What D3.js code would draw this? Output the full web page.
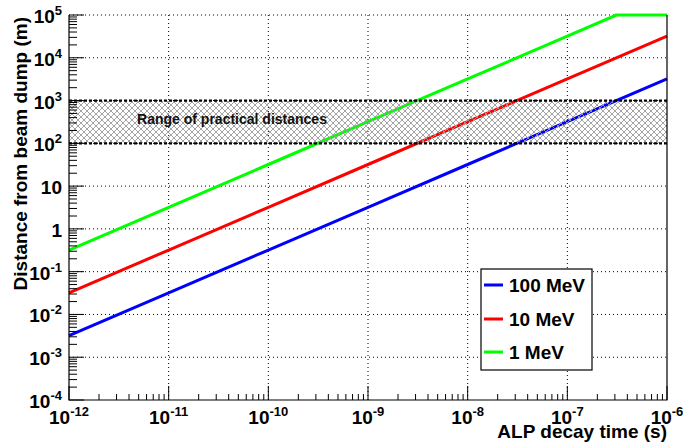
<!DOCTYPE html>
<html>
<head>
<meta charset="utf-8">
<script src="https://cdn.jsdelivr.net/npm/d3@7"></script>
<style>
html,body{margin:0;padding:0;background:#fff;}
svg{display:block;font-family:"Liberation Sans",Arial,Helvetica,sans-serif;font-weight:bold;}
</style>
</head>
<body>
<svg id="c" width="683" height="442"></svg>
<script>
// ---- data ----
const seriesNames = ["100 MeV", "10 MeV", "1 MeV"];
const seriesColors = ["#0000ff", "#ff0000", "#00ff00"];
const times100MeV = [1e-12, 1e-11, 1e-10, 1e-9, 1e-8, 1e-7, 1e-6];
const dist100MeV  = [0.0032, 0.032, 0.32, 3.2, 32, 320, 3200];
const times10MeV  = [1e-12, 1e-11, 1e-10, 1e-9, 1e-8, 1e-7, 1e-6];
const dist10MeV   = [0.032, 0.32, 3.2, 32, 320, 3200, 32000];
const times1MeV   = [1e-12, 1e-11, 1e-10, 1e-9, 1e-8, 1e-7, 3.1e-7, 1e-6];
const dist1MeV    = [0.32, 3.2, 32, 320, 3200, 32000, 100000, 100000];
const xTickExps = [-12, -11, -10, -9, -8, -7, -6];
const yTickLabels = [
  {v:1e-4, b:"10", e:"-4"}, {v:1e-3, b:"10", e:"-3"}, {v:1e-2, b:"10", e:"-2"},
  {v:1e-1, b:"10", e:"-1"}, {v:1, b:"1", e:""}, {v:10, b:"10", e:""},
  {v:1e2, b:"10", e:"2"}, {v:1e3, b:"10", e:"3"}, {v:1e4, b:"10", e:"4"}, {v:1e5, b:"10", e:"5"}
];
const bandRange = [100, 1000];
const bandLabel = "Range of practical distances";
const xTitle = "ALP decay time (s)";
const yTitle = "Distance from beam dump (m)";

// ---- layout ----
const L = 69, R = 667, T = 15, B = 400;
const svg = d3.select("#c");
const x = d3.scaleLog().domain([1e-12, 1e-6]).range([L, R]);
const y = d3.scaleLog().domain([1e-4, 1e5]).range([B, T]);

// hatch pattern
const defs = svg.append("defs");
const pat = defs.append("pattern").attr("id","hatch").attr("patternUnits","userSpaceOnUse")
  .attr("width",6).attr("height",6);
pat.append("path").attr("d","M0,0 L6,6 M6,0 L0,6 M-1,5 L1,7 M5,-1 L7,1 M-1,1 L1,-1 M5,7 L7,5")
  .attr("stroke","#9a9a9a").attr("stroke-width",0.9).attr("fill","none");

// grid
const gx = xTickExps.slice(1, -1).map(e => Math.pow(10, e));
svg.append("g").selectAll("line").data(gx).join("line")
  .attr("x1", d => x(d)).attr("x2", d => x(d)).attr("y1", T).attr("y2", B)
  .attr("stroke","#000").attr("stroke-width",1).attr("stroke-dasharray","1,3");
const gy = yTickLabels.slice(1).map(d => d.v);
svg.append("g").selectAll("line").data(gy).join("line")
  .attr("x1", L).attr("x2", R).attr("y1", d => y(d)).attr("y2", d => y(d))
  .attr("stroke","#000").attr("stroke-width",1).attr("stroke-dasharray","1,3");

// series lines
const seriesData = [
  d3.zip(times100MeV, dist100MeV),
  d3.zip(times10MeV, dist10MeV),
  d3.zip(times1MeV, dist1MeV)
];
const line = d3.line().x(d => x(d[0])).y(d => y(d[1]));
seriesData.forEach((s, i) => {
  svg.append("path").datum(s).attr("d", line).attr("fill","none")
    .attr("stroke", seriesColors[i]).attr("stroke-width", 3);
});

// band
svg.append("rect").attr("x", L).attr("width", R - L)
  .attr("y", y(bandRange[1])).attr("height", y(bandRange[0]) - y(bandRange[1]))
  .attr("fill","url(#hatch)");
bandRange.forEach(v => {
  svg.append("line").attr("x1", L).attr("x2", R).attr("y1", y(v)).attr("y2", y(v))
    .attr("stroke","#000").attr("stroke-width",2.2).attr("stroke-dasharray","3,2");
});
svg.append("text").attr("x", 232).attr("y", 124).attr("text-anchor","middle")
  .attr("font-size", 14).attr("fill","#111").text(bandLabel);

// ticks (drawn inward, ROOT style)
const xa = svg.append("g");
const xMinor = d3.range(-12, -6).flatMap(e => d3.range(2, 10).map(k => k * Math.pow(10, e)));
xa.selectAll(".mn").data(xMinor).join("line")
  .attr("x1", d => x(d)).attr("x2", d => x(d)).attr("y1", B).attr("y2", B - 6)
  .attr("stroke","#000").attr("stroke-width",1);
xa.selectAll(".mj").data(xTickExps.map(e => Math.pow(10, e))).join("line")
  .attr("x1", d => x(d)).attr("x2", d => x(d)).attr("y1", B).attr("y2", B - 14)
  .attr("stroke","#000").attr("stroke-width",1);
const ya = svg.append("g");
const yMinor = d3.range(-4, 5).flatMap(e => d3.range(2, 10).map(k => k * Math.pow(10, e)));
ya.selectAll(".mn").data(yMinor).join("line")
  .attr("x1", L).attr("x2", L + 8).attr("y1", d => y(d)).attr("y2", d => y(d))
  .attr("stroke","#000").attr("stroke-width",1);
ya.selectAll(".mj").data(yTickLabels.map(d => d.v)).join("line")
  .attr("x1", L).attr("x2", L + 15).attr("y1", d => y(d)).attr("y2", d => y(d))
  .attr("stroke","#000").attr("stroke-width",1);

// frame (left, bottom, right)
svg.append("path").attr("d", `M${L},${T} L${L},${B} L${R},${B} L${R},${T}`)
  .attr("fill","none").attr("stroke","#000").attr("stroke-width",1.2);

// x tick labels
xTickExps.forEach(e => {
  const t = svg.append("text").attr("x", x(Math.pow(10, e))).attr("y", 424)
    .attr("text-anchor","middle").attr("font-size",19).attr("fill","#000");
  t.append("tspan").text("10");
  t.append("tspan").attr("font-size",13).attr("dy",-8).text(String(e));
});
// y tick labels
yTickLabels.forEach(d => {
  const t = svg.append("text").attr("x", 62).attr("y", y(d.v) + 8)
    .attr("text-anchor","end").attr("font-size",19).attr("fill","#000");
  t.append("tspan").text(d.b);
  if (d.e) t.append("tspan").attr("font-size",13).attr("dy",-8).text(d.e);
});

// axis titles
svg.append("text").attr("x", R).attr("y", 438).attr("text-anchor","end")
  .attr("font-size",19).attr("fill","#000").text(xTitle);
svg.append("text").attr("transform", `translate(27,${T + 2}) rotate(-90)`)
  .attr("text-anchor","end").attr("font-size",19).attr("fill","#000").text(yTitle);

// legend
const lg = svg.append("g");
lg.append("rect").attr("x", 481).attr("y", 269).attr("width", 111).attr("height", 101)
  .attr("fill","#fff").attr("stroke","#000").attr("stroke-width",1.2);
const rowsY = [285, 319, 352];
seriesNames.forEach((n, i) => {
  lg.append("line").attr("x1", 484).attr("x2", 503).attr("y1", rowsY[i]).attr("y2", rowsY[i])
    .attr("stroke", seriesColors[i]).attr("stroke-width", 3);
  lg.append("text").attr("x", 509).attr("y", rowsY[i] + 7).attr("font-size", 19)
    .attr("fill","#000").text(n);
});
</script>
</body>
</html>
